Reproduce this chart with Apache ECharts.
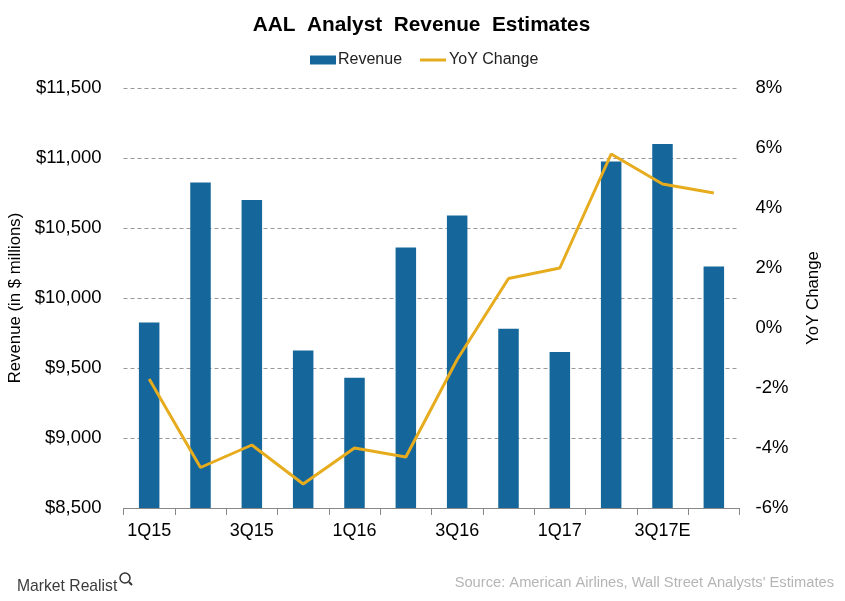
<!DOCTYPE html>
<html><head><meta charset="utf-8"><style>html,body{margin:0;padding:0;background:#fff}#c{width:845px;height:601px}</style>
<script src="https://cdn.jsdelivr.net/npm/echarts@6/dist/echarts.min.js"></script></head><body><div id="c"></div>
<script>
const categories=['1Q15','2Q15','3Q15','4Q15','1Q16','2Q16','3Q16','4Q16','1Q17','2Q17','3Q17E','4Q17E'];
const tickLabels=['1Q15','','3Q15','','1Q16','','3Q16','','1Q17','','3Q17E',''];
const revenue=[9825,10825,10700,9625,9430,10360,10590,9780,9615,10975,11100,10225];
const yoy=[-1.7,-4.65,-3.9,-5.2,-4.0,-4.3,-1.05,1.65,2.0,5.8,4.8,4.5];
const font='Arial, "Liberation Sans", sans-serif';
const chart=echarts.init(document.getElementById('c'),null,{renderer:'canvas'});
chart.setOption({animation:false,textStyle:{fontFamily:font},
title:{text:'AAL  Analyst  Revenue  Estimates',left:416.5,top:10,textAlign:'center',textStyle:{fontSize:20.8,fontWeight:'bold',color:'#000',fontFamily:font}},
legend:{top:47,left:305,itemWidth:26,itemHeight:9,itemGap:18,textStyle:{fontSize:16,color:'#222',fontFamily:font},
 data:[{name:'Revenue',icon:'rect',textStyle:{padding:[0,0,0,-3]}},{name:'YoY Change',icon:'path://M0 0H0.01V0.01H0ZM0 3H28V6H0ZM0 9H0.01V9.01H0Z',symbolKeepAspect:false,textStyle:{padding:[0,0,0,-2]}}]},
grid:{left:123.5,right:105.5,top:88,bottom:93,outerBoundsMode:'none'},
xAxis:{type:'category',data:categories,axisTick:{show:true,length:7,lineStyle:{color:'#888'}},axisLine:{onZero:false,lineStyle:{color:'#888'}},
 axisLabel:{interval:0,fontSize:18,color:'#000',margin:14,formatter:(v,i)=>tickLabels[i]}},
yAxis:[{type:'value',min:8500,max:11500,interval:500,name:'Revenue (in $ millions)',nameLocation:'middle',nameGap:95,nameTextStyle:{fontSize:16.8,color:'#000'},
 axisLine:{show:false},axisTick:{show:false},splitLine:{lineStyle:{type:[4,3],color:'#999'}},
 axisLabel:{fontSize:18.5,color:'#000',margin:22,formatter:v=>'$'+v.toLocaleString('en-US')}},
 {type:'value',min:-6,max:8,interval:2,name:'YoY Change',nameLocation:'middle',nameGap:65,nameTextStyle:{fontSize:16.8,color:'#000'},
 axisLine:{show:false},axisTick:{show:false},splitLine:{show:false},
 axisLabel:{fontSize:18.5,color:'#000',margin:16,formatter:v=>v+'%'}}],
series:[{name:'Revenue',type:'bar',data:revenue,barWidth:20.5,itemStyle:{color:'#14669b'}},
{name:'YoY Change',type:'line',yAxisIndex:1,data:yoy,symbol:'none',lineStyle:{color:'#e6ac1e',width:3},itemStyle:{color:'#e6ac1e'}}],
graphic:[
{type:'text',left:17,top:579,style:{text:'Market Realist',font:'15.7px '+font,fill:'#3c3c3c'}},
{type:'circle',shape:{cx:125,cy:578,r:5},style:{fill:'none',stroke:'#333',lineWidth:1.5}},
{type:'line',shape:{x1:129,y1:582,x2:132,y2:585},style:{stroke:'#333',lineWidth:2}},
{type:'text',right:11,top:575,style:{text:"Source: American Airlines, Wall Street Analysts' Estimates",font:'14.7px '+font,fill:'#b5b5b5'}}
]});
</script></body></html>
